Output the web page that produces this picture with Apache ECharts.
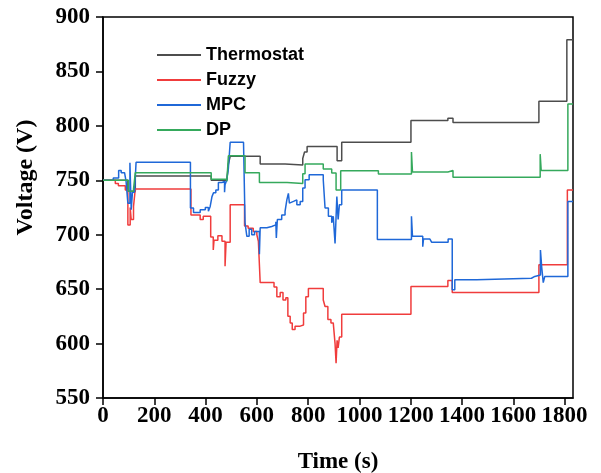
<!DOCTYPE html>
<html>
<head>
<meta charset="utf-8">
<script src="https://cdn.jsdelivr.net/npm/echarts@6/dist/echarts.min.js"></script>
<style>html,body{margin:0;padding:0;background:#fff}#c{width:601px;height:473px}</style>
</head>
<body>
<div id="c"></div>
<script>
// Step data: each pair [time (s), voltage (V)] = value from that time on
const seriesNames = ['Thermostat', 'Fuzzy', 'MPC', 'DP'];
const xTicks = [0, 200, 400, 600, 800, 1000, 1200, 1400, 1600, 1800];

const thermostat = [[0,750],[97,740],[126,754],[422,750],[483,750],[489,765],[496,772],[613,765],[710,764],[779,770],[786,776],[796,781],[913,768],[931,785],[1201,805],[1345,807],[1365,803],[1700,822.5],[1809,879],[1833,879]];

const fuzzy = [[0,750],[48,747],[60,745],[87,741],[97,709],[106,725],[110,714],[119,726],[126,742],[343,718],[379,714],[391,717],[420,698],[430,686],[433,695],[448,699],[464,694],[476,671],[480,693],[496,727.6],[552,708],[566,706],[586,703],[600,700],[606,694],[613,656],[667,652],[678,643],[691,647],[702,640],[713,642],[721,625],[730,619],[738,613],[749,616],[769,617],[782,628],[791,643],[801,650.5],[859,640],[866,634],[877,622],[889,619],[898,618],[905,600],[909,582],[913,603],[917,596],[922,606],[931,627],[1201,652.5],[1345,658],[1362,647],[1700,672.5],[1811,741],[1833,741]];

const mpc = [[0,750],[40,752],[61,759],[71,757],[84,756],[90,749],[97,729],[105,766],[110,723],[115,739],[123,740],[129,766.5],[341,724.5],[353,720.5],[379,723],[399,725],[411,721.5],[418,726],[425,735],[431,738.6],[440,741],[450,748],[464,749],[474,739],[476,746],[483,750.5],[489,761],[496,785],[548,785],[554,711],[561,698.5],[570,705],[580,700],[591,703],[610,682],[613,706.4],[639,707.6],[658,709],[674,712],[676,697],[680,714],[697,718],[710,721.5],[717,732],[723,738],[727,729],[734,730.6],[743,732],[756,727.6],[769,730.6],[779,743],[788,750.5],[804,755],[847,755],[859,750.5],[866,724.5],[879,717],[892,711],[898,717],[905,692],[912,735],[917,714],[922,727.6],[931,741],[1070,695.5],[1203,717],[1207,698.5],[1247,689],[1250,696],[1275,697],[1282,693],[1346,696],[1362,649.5],[1372,658.7],[1457,660],[1671,661.7],[1684,663],[1706,686],[1711,670],[1717,656],[1723,661.7],[1813,730.6],[1833,730.6]];

const dp = [[0,750],[99,740],[119,742],[126,757],[422,751],[483,749],[489,772.6],[554,757],[610,748],[718,747],[779,756],[788,765],[859,760.4],[892,756.7],[909,741],[927,758.8],[1074,755.8],[1203,776],[1207,757.6],[1345,759],[1365,752.7],[1705,774],[1709,759],[1813,820],[1833,820]];

const colors = ['#4d4d4d', '#f03c3c', '#1f68d8', '#35a95c'];
const dataSets = [thermostat, fuzzy, mpc, dp];

const serif = 'Liberation Serif';
const chart = echarts.init(document.getElementById('c'), null, {renderer: 'canvas'});
chart.setOption({
  animation: false,
  backgroundColor: '#fff',
  grid: {left: 103, right: 28, top: 17, bottom: 75, show: true, borderColor: '#000', borderWidth: 1.5, containLabel: false, outerBoundsMode: 'none'},
  legend: {
    orient: 'vertical', left: 152, top: 41, itemWidth: 44, itemHeight: 2, itemGap: 7, icon: 'rect',
    textStyle: {fontFamily: 'Liberation Sans', fontWeight: 'bold', fontSize: 18, color: '#000'},
    data: seriesNames
  },
  xAxis: {
    type: 'value', min: 0, max: 1833,
    name: 'Time (s)', nameLocation: 'middle', nameGap: 53,
    nameTextStyle: {fontFamily: serif, fontWeight: 'bold', fontSize: 23, color: '#000'},
    axisLine: {lineStyle: {color: '#000', width: 1.5}},
    axisTick: {length: 7, lineStyle: {color: '#000', width: 1.5}, customValues: xTicks},
    axisLabel: {fontFamily: serif, fontWeight: 'bold', fontSize: 23, color: '#000', margin: 7, customValues: xTicks, hideOverlap: false, formatter: v => String(v)},
    splitLine: {show: false}
  },
  yAxis: {
    type: 'value', min: 550, max: 900, interval: 50,
    name: 'Voltage (V)', nameLocation: 'middle', nameGap: 65,
    nameTextStyle: {fontFamily: serif, fontWeight: 'bold', fontSize: 24, color: '#000', padding: [0, 0, 0, 60]},
    axisLine: {show: true, lineStyle: {color: '#000', width: 1.5}},
    axisTick: {show: true, length: 7, lineStyle: {color: '#000', width: 1.5}},
    axisLabel: {fontFamily: serif, fontWeight: 'bold', fontSize: 23, color: '#000', margin: 13, formatter: v => String(v)},
    splitLine: {show: false}
  },
  series: seriesNames.map((n, i) => ({
    name: n, type: 'line', step: 'end', data: dataSets[i], showSymbol: false, symbol: 'none',
    color: colors[i], lineStyle: {width: 1.5, color: colors[i]}
  }))
});
</script>
</body>
</html>
